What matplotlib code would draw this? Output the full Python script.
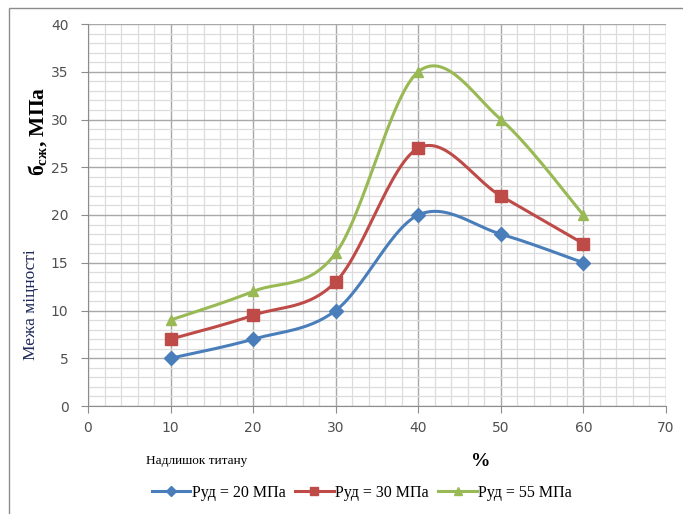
import numpy as np
import matplotlib
matplotlib.use("Agg")
import matplotlib.pyplot as plt
from matplotlib.patches import Rectangle

# data
excess_ti = [10, 20, 30, 40, 50, 60]
p20 = [5, 7, 10, 20, 18, 15]
p30 = [7, 9.5, 13, 27, 22, 17]
p55 = [9, 12, 16, 35, 30, 20]
labels = ["Руд = 20 МПа", "Руд = 30 МПа", "Руд = 55 МПа"]
colors = ["#4A7EBB", "#BE4B48", "#98B954"]
markers = ["D", "s", "^"]


def smooth(x, y, n=30):
    # Excel-style smoothed line: cubic bezier with Catmull-Rom control points
    x = np.asarray(x, float)
    y = np.asarray(y, float)
    px = np.concatenate([[x[0]], x, [x[-1]]])
    py = np.concatenate([[y[0]], y, [y[-1]]])
    xs, ys = [], []
    t = np.linspace(0, 1, n)
    for i in range(1, len(px) - 2):
        p0 = np.array([px[i], py[i]])
        p3 = np.array([px[i + 1], py[i + 1]])
        c1 = p0 + (np.array([px[i + 1], py[i + 1]]) - np.array([px[i - 1], py[i - 1]])) / 6
        c2 = p3 - (np.array([px[i + 2], py[i + 2]]) - np.array([px[i], py[i]])) / 6
        b = ((1 - t) ** 3)[:, None] * p0 + (3 * (1 - t) ** 2 * t)[:, None] * c1 \
            + (3 * (1 - t) * t ** 2)[:, None] * c2 + (t ** 3)[:, None] * p3
        xs.extend(b[:, 0])
        ys.extend(b[:, 1])
    return xs, ys


plt.rcParams["mathtext.fontset"] = "custom"
plt.rcParams["mathtext.rm"] = "Liberation Serif"
plt.rcParams["mathtext.bf"] = "Liberation Serif:bold"

fig = plt.figure(figsize=(6.83, 5.14), dpi=100)
fig.patches.append(Rectangle((9 / 683, -0.1), 1.2, 1 - 8 / 514 + 0.1,
                             transform=fig.transFigure, fill=False,
                             edgecolor="#8c8c8c", linewidth=1.0))
ax = fig.add_axes([88 / 683, 1 - 406 / 514, (666 - 88) / 683, (406 - 24) / 514])

for ys, lab, c, m in zip([p20, p30, p55], labels, colors, markers):
    sx, sy = smooth(excess_ti, ys)
    ax.plot(sx, sy, color=c, linewidth=2.2, zorder=3)
    ax.plot(excess_ti, ys, linestyle="none", marker=m, color=c,
            markersize=8 if m == "s" else 7, zorder=4)
    ax.plot([], [], color=c, linewidth=2.2, marker=m,
            markersize=6 if m == "s" else 5.5, label=lab)

ax.set_xlim(0, 70)
ax.set_ylim(0, 40)
ax.set_xticks(np.arange(0, 71, 10))
ax.set_yticks(np.arange(0, 41, 5))
ax.set_xticks(np.arange(0, 71, 2), minor=True)
ax.set_yticks(np.arange(0, 41, 1), minor=True)
ax.grid(which="major", color="#a8a8a8", linewidth=1.0)
ax.grid(which="minor", color="#dcdcdc", linewidth=0.9)
ax.set_axisbelow(True)
for s in ["top", "right"]:
    ax.spines[s].set_visible(False)
for s in ["left", "bottom"]:
    ax.spines[s].set_color("#8c8c8c")
ax.tick_params(which="major", length=5, color="#8c8c8c", labelsize=10,
               labelcolor="#505050")
ax.tick_params(which="minor", length=0)
ax.tick_params(axis="y", pad=9)
ax.tick_params(axis="x", pad=6)

fig.text(38 / 683, 1 - 131 / 514, r"$\mathbf{б_{сж}}$, МПа", rotation=90,
         ha="center", va="center", fontsize=15.5, fontweight="bold",
         family="Liberation Serif")
fig.text(31 / 683, 1 - 305 / 514, "Межа міцності", rotation=90,
         ha="center", va="center", fontsize=12.5, color="#1f2a5a",
         family="Liberation Serif")
fig.text(197 / 683, 1 - 461 / 514, "Надлишок титану", ha="center", va="center",
         fontsize=9.5, family="Liberation Serif")
fig.text(481 / 683, 1 - 461 / 514, "%", ha="center", va="center",
         fontsize=14, fontweight="bold", family="Liberation Serif")

fig.legend(loc="center", bbox_to_anchor=(362 / 683, 1 - 493 / 514), ncol=3,
           frameon=False, prop={"family": "Liberation Serif", "size": 11.5},
           handlelength=2.4, handletextpad=0.1, columnspacing=0.6)

fig.savefig("out.png", dpi=100)
